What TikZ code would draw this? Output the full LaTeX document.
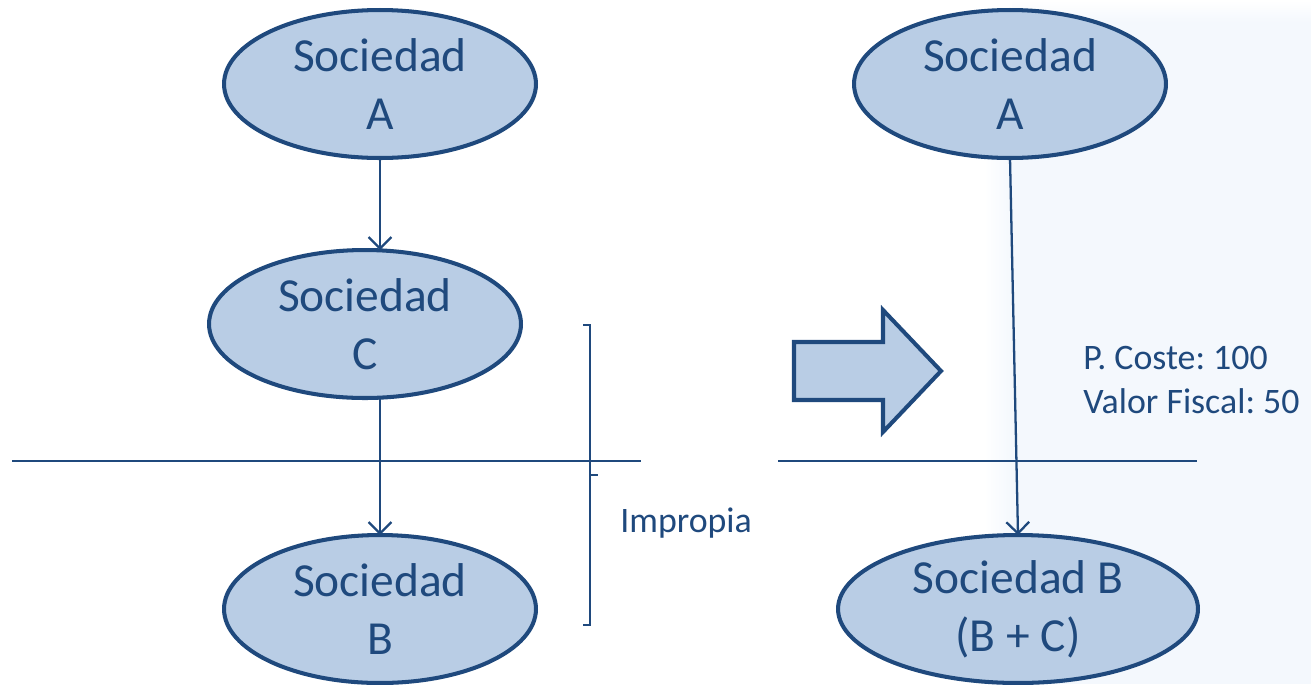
\documentclass[tikz,border=0pt]{standalone}
\usepackage{fontspec}
\setmainfont{Carlito}
\frenchspacing
\usetikzlibrary{shapes.geometric,arrows.meta}
\definecolor{navy}{RGB}{31,73,125}
\definecolor{cell}{RGB}{185,205,229}
\definecolor{haze}{RGB}{244,248,253}
\tikzset{
  company/.style={ellipse, draw=navy, fill=cell, line width=2.3pt,
    inner sep=0pt, outer sep=0pt, minimum width=6.24cm, minimum height=2.96cm,
    align=center, text=navy, font=\fontsize{27}{33}\selectfont},
  link/.style={draw=navy, line width=1.3pt, -{Straight Barb[length=6.5pt,width=13pt,line width=1.3pt]}},
  rule/.style={draw=navy, line width=1.2pt},
  note/.style={text=navy, font=\fontsize{20.4}{25.5}\selectfont, inner sep=0pt},
}
\begin{document}
\begin{tikzpicture}[x=0.02cm, y=-0.02cm]
  \useasboundingbox (0,0) rectangle (1311,684);
  % pale panel behind the right-hand structure
  \shade[left color=white, right color=haze, draw=none] (984,10) rectangle (1012,684);
  \fill[haze] (1012,10) rectangle (1311,684);
  \shade[top color=white, bottom color=haze, draw=none] (1012,0) rectangle (1311,22);

  % structure before the merger
  \node[company] (A) at (380,84) {Sociedad\\A};
  \node[company] (C) at (365,324) {Sociedad\\C};
  \node[company] (B) at (380,609) {Sociedad\\B};
  \draw[link] (A.south) -- (A.south |- C.north);
  \draw[link] (C.south -| B.north) -- (B.north);

  % dividing lines
  \coordinate (l1) at (12,461);
  \coordinate (l2) at (641,461);
  \coordinate (r1) at (778,461);
  \coordinate (r2) at (1197,461);
  \draw[rule] (l1) -- (l2);
  \draw[rule] (r1) -- (r2);

  % bracket marking the improper merger
  \draw[rule, line width=1.4pt] (583,325) -- (590,325) -- (590,625) -- (583,625);
  \draw[rule, line width=1.4pt] (590,475) -- (598,475);
  \node[note, anchor=west] (imp) at (620,523) {Impropia};

  % transition arrow
  \draw[draw=navy, fill=cell, line width=2.3pt, line join=miter]
    (794,342) -- (883,342) -- (883,310) -- (941,371) -- (883,432) -- (883,400) -- (794,400) -- cycle;

  % structure after the merger
  \node[company] (A2) at (1010,84) {Sociedad\\A};
  \node[company, minimum width=7.2cm] (BC) at (1018,609) {Sociedad B\\(B + C)};
  \draw[link] (A2.south) -- (BC.north);
  \node[note, anchor=west, align=left] (vals) at (1083,380) {P. Coste: 100\\Valor Fiscal: 50};
\end{tikzpicture}
\end{document}
